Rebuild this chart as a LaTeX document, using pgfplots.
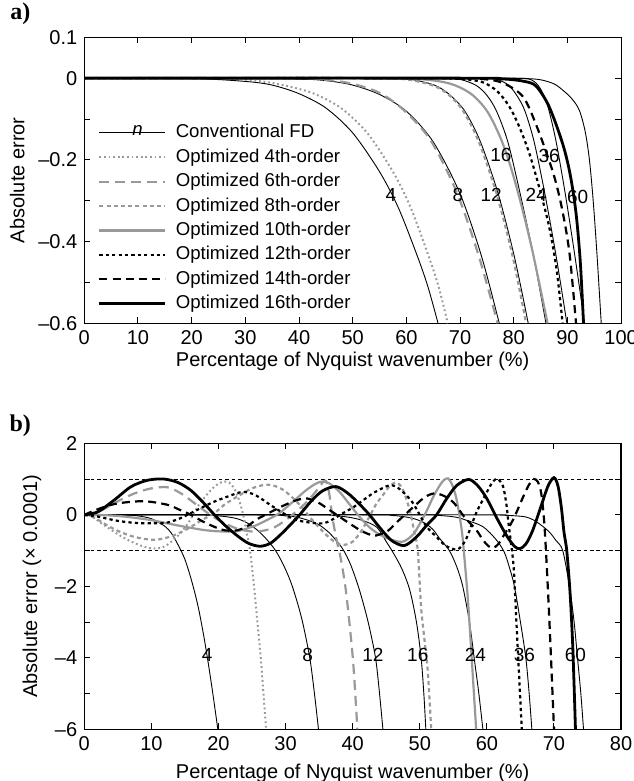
\documentclass[border=0pt]{standalone}
\usepackage{fontspec}
\setmainfont{Liberation Sans}
\newfontfamily\serifb{Liberation Serif}
\usepackage{pgfplots}
\pgfplotsset{compat=1.18}
\definecolor{lgray}{gray}{0.6}

\tikzset{num/.style={font=\fontsize{9.5}{11}\selectfont, inner sep=0pt}}
\pgfplotsset{
  panel/.style={
    scale only axis, width=268.4pt, height=143pt,
    axis line style={line width=0.6pt},
    tick align=inside, tick pos=both, major tick length=3pt,
    tick style={line width=0.5pt, black},
    ticklabel style={font=\fontsize{10}{12}\selectfont},
    label style={font=\fontsize{10}{12}\selectfont},
    /pgf/number format/assume math mode=true,
  },
  fd/.style={black, line width=0.45pt, smooth, tension=0.5},
  o4/.style={lgray, line width=1pt, dash pattern=on 0.9pt off 1.4pt, smooth, tension=0.5},
  o6/.style={lgray, line width=1.1pt, dash pattern=on 5pt off 3pt, smooth, tension=0.5},
  o8/.style={lgray, line width=1.1pt, dash pattern=on 2pt off 1.6pt, smooth, tension=0.5},
  o10/.style={lgray, line width=1.1pt, smooth, tension=0.5},
  o12/.style={black, line width=1.1pt, dash pattern=on 1.6pt off 1.6pt, smooth, tension=0.5},
  o14/.style={black, line width=1.1pt, dash pattern=on 4pt off 2.6pt, smooth, tension=0.5},
  o16/.style={black, line width=1.4pt, smooth, tension=0.5},
  lineleg/.style={legend image code/.code={\draw[##1] (0pt,0pt) -- (33pt,0pt); \path (34.5pt,0pt);}},
  nleg/.style={legend image code/.code={\draw[##1] (0pt,0pt) -- (33pt,0pt); \path (34.5pt,0pt);
    \node[font=\fontsize{9.3}{11}\selectfont\itshape, inner sep=0pt] at (16.5pt,1.4pt) {n};}},
}

\begin{document}
\begin{tikzpicture}
\useasboundingbox (-42.15pt,-25.85pt) rectangle (274.35pt,364.65pt);

% ---------------- a) ----------------
\begin{axis}[panel, at={(0pt,203pt)}, anchor=south west,
  xmin=0, xmax=100, ymin=-0.6, ymax=0.1,
  xtick={0,10,...,100},
  ytick={-0.6,-0.5,-0.4,-0.3,-0.2,-0.1,0,0.1},
  yticklabels={–0.6,,–0.4,,–0.2,,0,0.1},
  xlabel={Percentage of Nyquist wavenumber (\%)},
  xlabel style={yshift=3pt},
  ylabel={Absolute error},
  legend style={at={(axis cs:2.55,-0.105)}, anchor=north west, draw=none, fill=none,
    inner sep=0pt, outer sep=0pt,
    font=\fontsize{9.3}{11}\selectfont, row sep=3.2pt,
    nodes={inner sep=0pt, inner xsep=3pt, text height=7pt, text depth=2pt}},
  legend cell align=left,
  lineleg,
]
\addplot[fd, nleg]
  coordinates {(0,0)(20,-0.001)(30,-0.008)(35,-0.017)(40,-0.038)(45,-0.073)(50,-0.134)(55,-0.229)(58.5,-0.317)(62,-0.434)(64,-0.51)(65.9,-0.6)};
\addlegendentry{Conventional FD}
\addplot[fd, forget plot] coordinates {(0,0)(30,0)(40,-0.002)(45,-0.006)(50,-0.017)(55,-0.04)(60,-0.081)(65,-0.156)(70,-0.283)(74,-0.436)(77.3,-0.6)};
\addplot[fd, forget plot] coordinates {(0,0)(45,0)(55,-0.0007)(60.3,-0.002)(65.2,-0.017)(68,-0.04)(70.9,-0.081)(73.8,-0.156)(77.1,-0.283)(80.1,-0.436)(82.7,-0.6)};
\addplot[fd, forget plot] coordinates {(0,0)(55,0)(65,-0.0007)(69.6,-0.002)(72.9,-0.017)(75,-0.042)(76.8,-0.081)(78.9,-0.156)(81.2,-0.283)(83.7,-0.436)(86,-0.6)};
\addplot[fd, forget plot] coordinates {(0,0)(62,0)(72,-0.0007)(76.5,-0.002)(79,-0.017)(80.7,-0.045)(82.1,-0.081)(83.8,-0.156)(85.8,-0.283)(87.9,-0.436)(89.9,-0.6)};
\addplot[fd, forget plot] coordinates {(0,0)(70,0)(79,-0.0007)(82.8,-0.002)(84.5,-0.017)(85.7,-0.045)(86.6,-0.081)(87.9,-0.156)(89.6,-0.283)(91.4,-0.436)(93.2,-0.6)};
\addplot[fd, forget plot] coordinates {(0,0)(75,0)(82,-0.001)(85,-0.004)(87.5,-0.014)(89.1,-0.029)(90.8,-0.05)(92.2,-0.078)(93.3,-0.13)(94.1,-0.2)(94.8,-0.3)(95.5,-0.43)(96.3,-0.6)};

\addplot[o4] coordinates {(0,0)(25,0)(33,-0.008)(38,-0.02)(42.8,-0.038)(47.8,-0.073)(52.7,-0.134)(57.5,-0.229)(60.8,-0.317)(64.1,-0.434)(66,-0.51)(67.7,-0.6)};
\addlegendentry{Optimized 4th-order}
\addplot[o6] coordinates {(0,0)(38,0)(45,-0.004)(50,-0.014)(55,-0.036)(59.5,-0.078)(64.5,-0.152)(69.4,-0.28)(73.5,-0.436)(77,-0.6)};
\addlegendentry{Optimized 6th-order}
\addplot[o8] coordinates {(0,0)(45,0)(55,-0.001)(60,-0.003)(65,-0.018)(68,-0.042)(70.6,-0.081)(73.5,-0.156)(76.8,-0.283)(79.8,-0.436)(82.3,-0.6)};
\addlegendentry{Optimized 8th-order}
\addplot[o10] coordinates {(0,0)(50,0)(62,-0.002)(68,-0.013)(72,-0.038)(75,-0.08)(77.5,-0.145)(79.5,-0.22)(81.5,-0.315)(83.6,-0.43)(86.3,-0.6)};
\addlegendentry{Optimized 10th-order}
\addplot[o12] coordinates {(0,0)(60,0)(70,-0.002)(74.2,-0.01)(77,-0.033)(79.2,-0.07)(81,-0.118)(82.9,-0.184)(84.8,-0.27)(86.6,-0.364)(88,-0.47)(89.1,-0.6)};
\addlegendentry{Optimized 12th-order}
\addplot[o14] coordinates {(0,0)(65,0)(74,-0.002)(78,-0.012)(81.7,-0.045)(84.2,-0.115)(87.3,-0.23)(89,-0.32)(90.4,-0.43)(91.6,-0.6)};
\addlegendentry{Optimized 14th-order}
\addplot[o16] coordinates {(0,0)(70,0)(78,-0.002)(82,-0.008)(84.2,-0.02)(86.6,-0.07)(89.1,-0.16)(90.5,-0.235)(91.6,-0.33)(92.4,-0.45)(93,-0.6)};
\addlegendentry{Optimized 16th-order}

\node[num] at (axis cs:57.1,-0.286) {4};
\node[num] at (axis cs:69.6,-0.286) {8};
\node[num] at (axis cs:75.8,-0.286) {12};
\node[num] at (axis cs:77.6,-0.188) {16};
\node[num] at (axis cs:84.2,-0.286) {24};
\node[num] at (axis cs:86.6,-0.19) {36};
\node[num] at (axis cs:91.9,-0.29) {60};
\end{axis}

% ---------------- b) ----------------
\begin{axis}[panel, at={(0pt,0pt)}, anchor=south west,
  xmin=0, xmax=80, ymin=-6, ymax=2,
  xtick={0,10,...,80},
  ytick={-6,-5,-4,-3,-2,-1,0,1,2},
  yticklabels={–6,,–4,,–2,,0,,2},
  xlabel={Percentage of Nyquist wavenumber (\%)},
  ylabel={Absolute error (× 0.0001)},
]
\addplot[black, line width=0.45pt, dash pattern=on 1.8pt off 1.4pt] coordinates {(0,1)(80,1)};
\addplot[black, line width=0.45pt, dash pattern=on 1.8pt off 1.4pt] coordinates {(0,-1)(80,-1)};

\addplot[fd] coordinates {(0,0)(6,-0.005)(8,-0.03)(10,-0.11)(12,-0.32)(13,-0.52)(14,-0.85)(15,-1.25)(16,-1.85)(17,-2.6)(18,-3.6)(19,-4.8)(19.9,-6)};
\addplot[fd] coordinates {(0,0)(16,0)(20,-0.03)(22.6,-0.1)(24.2,-0.22)(25.6,-0.4)(27,-0.65)(28.5,-1)(29.8,-1.45)(31,-2)(32.4,-2.9)(33.6,-4)(34.3,-5)(34.9,-6)};
\addplot[fd] coordinates {(0,0)(26,0)(30,-0.03)(32,-0.08)(34.5,-0.23)(36,-0.42)(37,-0.6)(38.5,-0.95)(39.7,-1.4)(41,-2.1)(42.3,-3)(43.4,-4)(44,-5)(44.5,-6)};
\addplot[fd] coordinates {(0,0)(33,0)(37,-0.02)(39.5,-0.07)(41.5,-0.16)(43.6,-0.35)(45.1,-0.78)(46,-1.05)(47.3,-1.5)(48.5,-2.1)(49.5,-3)(50.2,-4)(50.6,-5)(50.9,-6)};
\addplot[fd] coordinates {(0,0)(42,0)(46,-0.02)(47.9,-0.06)(49.5,-0.13)(50.9,-0.25)(52,-0.42)(52.9,-0.65)(54.4,-1)(55.5,-1.45)(56.4,-2)(57.4,-3)(58.1,-4)(58.8,-5)(59.4,-6)};
\addplot[fd] coordinates {(0,0)(48,0)(53,-0.02)(55.5,-0.07)(56.9,-0.15)(59.4,-0.33)(61.4,-0.7)(62.6,-1.05)(63.4,-1.5)(64.1,-2)(65,-3)(65.8,-4)(66.3,-5)(66.7,-6)};
\addplot[fd] coordinates {(0,0)(58,0)(62,-0.01)(64,-0.025)(65.8,-0.06)(67,-0.15)(68.3,-0.32)(69.4,-0.5)(70.3,-0.72)(71.3,-1)(72.3,-2)(73,-3)(73.5,-4)(74,-5)(74.4,-6)};

\addplot[o4] coordinates {(0,0)(1,-0.03)(2.5,-0.23)(4,-0.42)(5.5,-0.6)(7,-0.75)(8.4,-0.86)(9.7,-0.93)(10.9,-0.94)(12.2,-0.86)(13.4,-0.68)(14.4,-0.5)(15.7,-0.17)(16.9,0.23)(18.2,0.55)(19.4,0.79)(20.3,0.9)(20.9,0.93)(21.6,0.9)(22.3,0.75)(22.9,0.5)(23.4,0.2)(23.8,-0.1)(24.2,-0.5)(24.7,-1)(25.3,-2)(25.8,-3)(26.3,-4)(26.7,-5)(27.1,-6)};
\addplot[o6] coordinates {(0,0)(2.5,0.12)(5,0.38)(7.5,0.6)(10,0.74)(12.4,0.77)(14.4,0.6)(16.4,0.33)(18.4,0.05)(20.5,-0.2)(23,-0.4)(25.5,-0.47)(28,-0.38)(30,-0.15)(31.5,0.08)(33.1,0.35)(34.5,0.65)(35.3,0.85)(36,0.95)(36.5,0.6)(37,-0.1)(37.6,-0.7)(38.2,-1.2)(38.9,-2)(39.5,-3)(40.1,-4.2)(40.7,-6)};
\addplot[o8] coordinates {(0,0)(1.5,-0.08)(3,-0.25)(5,-0.45)(7.5,-0.62)(10.4,-0.7)(13,-0.6)(15.5,-0.38)(17.5,-0.15)(19.4,0.05)(21,0.3)(22.9,0.52)(25,0.74)(27,0.84)(28.5,0.8)(30,0.65)(32,0.3)(34,-0.15)(36,-0.55)(37.5,-0.78)(38.7,-0.84)(40,-0.75)(41.3,-0.45)(42.5,-0.05)(43.5,0.3)(44.5,0.55)(45.5,0.8)(46.4,0.9)(47.2,0.8)(47.9,0.5)(48.6,0.05)(49.2,-0.5)(49.7,-1)(50.2,-2.6)(50.7,-3.5)(51.2,-4.4)(51.7,-6)};
\addplot[o10] coordinates {(0,0)(3,-0.01)(6,-0.05)(10,-0.15)(14,-0.3)(18,-0.43)(21,-0.47)(23,-0.45)(25.5,-0.3)(27.5,-0.12)(29.1,0.05)(31,0.35)(33,0.68)(34.5,0.87)(35.5,0.93)(36.5,0.88)(38,0.65)(39.5,0.3)(41,-0.05)(42.5,-0.35)(44,-0.55)(45.8,-0.7)(47.5,-0.75)(49,-0.55)(50,-0.25)(51,0.1)(52,0.5)(53,0.83)(53.6,0.97)(54.2,1.02)(54.8,0.85)(55.4,0.5)(55.9,0)(56.3,-0.5)(56.6,-1.1)(57.1,-2.2)(57.6,-3.6)(58,-4.8)(58.4,-6)};
\addplot[o12] coordinates {(0,0)(2,-0.05)(5,-0.17)(8,-0.23)(11.9,-0.23)(14,-0.12)(15.9,0.05)(17.7,0.22)(19.4,0.37)(21.5,0.52)(23.6,0.64)(25.5,0.55)(28.1,0.23)(31,-0.1)(33,-0.2)(35.5,-0.24)(37,-0.13)(38.5,0.04)(40,0.2)(41.5,0.4)(43,0.6)(44.5,0.75)(45.7,0.83)(47,0.72)(48.9,0.35)(50.9,-0.3)(52.4,-0.6)(53.9,-0.87)(55.6,-0.97)(56.7,-0.75)(57.4,-0.45)(58.4,0.05)(59.9,0.6)(60.9,0.93)(61.6,1.0)(62.4,0.8)(62.9,0.3)(63.2,-0.2)(63.6,-0.8)(64,-1.5)(64.4,-3)(64.8,-4.5)(65.2,-6)};
\addplot[o14] coordinates {(0,0)(2.5,0.19)(5,0.32)(8.9,0.38)(12.4,0.28)(14.2,0.14)(15.9,0)(18,-0.22)(20.6,-0.42)(22.6,-0.44)(24.2,-0.33)(25.6,-0.14)(27.5,0.05)(29.6,0.25)(31.5,0.4)(33.1,0.46)(34.8,0.35)(36.5,0.14)(38,-0.05)(39.6,-0.25)(41.3,-0.45)(43,-0.58)(44,-0.55)(45.3,-0.44)(46.5,-0.22)(47.6,-0.03)(49.4,0.28)(50.8,0.5)(52.2,0.6)(53.7,0.52)(55.1,0.33)(56.6,-0.05)(58.4,-0.42)(59.4,-0.7)(60.2,-0.87)(60.9,-0.93)(61.7,-0.82)(62.5,-0.58)(63.9,-0.14)(65.4,0.5)(66.3,0.85)(67,1.0)(67.6,0.92)(68.1,0.6)(68.5,-0.1)(68.8,-1)(69.2,-2.5)(69.6,-4.2)(70,-6)};
\addplot[o16] coordinates {(0,0)(2,0.08)(4.5,0.42)(7,0.79)(9.5,0.97)(11.9,1.0)(14,0.9)(15.9,0.68)(17.7,0.35)(19.4,0)(21,-0.3)(22.9,-0.6)(24.5,-0.8)(26.2,-0.88)(27.7,-0.8)(29,-0.6)(30.5,-0.32)(32.1,0)(33.8,0.38)(35.5,0.67)(37.5,0.79)(39.3,0.6)(41,0.3)(42.5,0)(44,-0.35)(45.8,-0.72)(47.7,-0.86)(49.5,-0.62)(51,-0.3)(52.5,0)(54,0.45)(55.5,0.82)(57.3,0.99)(58.7,0.8)(60,0.45)(61.5,-0.1)(63,-0.6)(64.1,-0.88)(64.9,-0.95)(65.8,-0.82)(66.8,-0.45)(68,0.2)(69.1,0.8)(70,1.04)(70.6,0.8)(71.1,0.2)(71.5,-0.5)(71.9,-1)(72.4,-2.2)(72.8,-3.7)(73.2,-6)};

\node[num] at (axis cs:18.3,-3.93) {4};
\node[num] at (axis cs:33.3,-3.93) {8};
\node[num] at (axis cs:43.0,-3.93) {12};
\node[num] at (axis cs:49.7,-3.93) {16};
\node[num] at (axis cs:58.3,-3.93) {24};
\node[num] at (axis cs:65.6,-3.93) {36};
\node[num] at (axis cs:73.2,-3.93) {60};
\end{axis}

\node[font=\serifb\bfseries\fontsize{12}{12}\selectfont] at (-32pt,358pt) {a)};
\node[font=\serifb\bfseries\fontsize{12}{12}\selectfont] at (-32pt,152pt) {b)};
\end{tikzpicture}
\end{document}
